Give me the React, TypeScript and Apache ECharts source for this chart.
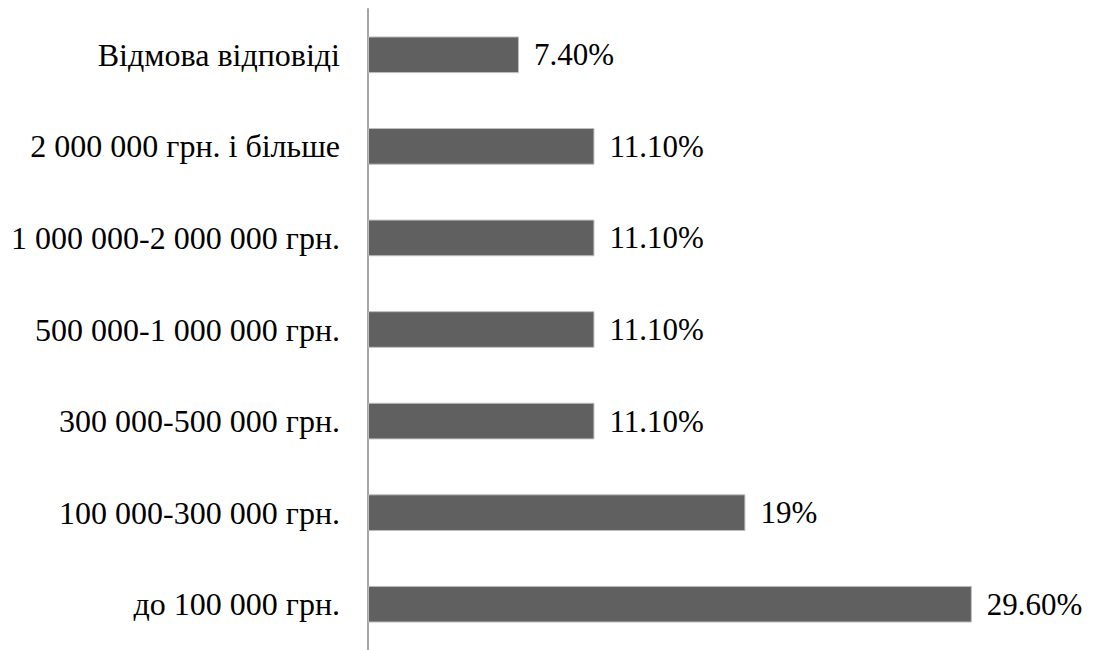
import React, { useEffect, useRef } from "react";
import * as echarts from "echarts";

const categories = [
  "до 100 000 грн.",
  "100 000-300 000 грн.",
  "300 000-500 000 грн.",
  "500 000-1 000 000 грн.",
  "1 000 000-2 000 000 грн.",
  "2 000 000 грн. і більше",
  "Відмова відповіді",
];
const values = [29.6, 18.5, 11.1, 11.1, 11.1, 11.1, 7.4];
const valueLabels = ["29.60%", "19%", "11.10%", "11.10%", "11.10%", "11.10%", "7.40%"];

const FONT = "Liberation Serif";

export default function App() {
  const ref = useRef<HTMLDivElement>(null);
  useEffect(() => {
    document.body.style.margin = "0";
    const chart = echarts.init(ref.current!, null, { renderer: "svg" });
    chart.setOption({
      animation: false,
      backgroundColor: "#ffffff",
      grid: { left: 368, right: 13, top: 9, bottom: -4, containLabel: false },
      xAxis: {
        type: "value",
        min: 0,
        max: 35,
        show: false,
      },
      yAxis: {
        type: "category",
        data: categories,
        axisLine: { show: true, lineStyle: { color: "#a6a6a6", width: 2 } },
        axisTick: { show: false },
        axisLabel: {
          color: "#000000",
          fontFamily: FONT,
          fontSize: 32,
          margin: 28,
        },
        splitLine: { show: false },
      },
      series: [
        {
          type: "bar",
          data: values,
          barCategoryGap: "60%",
          itemStyle: { color: "#606060", borderColor: "#bdbdbd", borderWidth: 1 },
          label: {
            show: true,
            position: "right",
            distance: 15,
            color: "#000000",
            fontFamily: FONT,
            fontSize: 31,
            formatter: (p: any) => valueLabels[p.dataIndex],
          },
        },
      ],
    });
    return () => chart.dispose();
  }, []);
  return <div ref={ref} style={{ width: 1095, height: 650 }} />;
}
